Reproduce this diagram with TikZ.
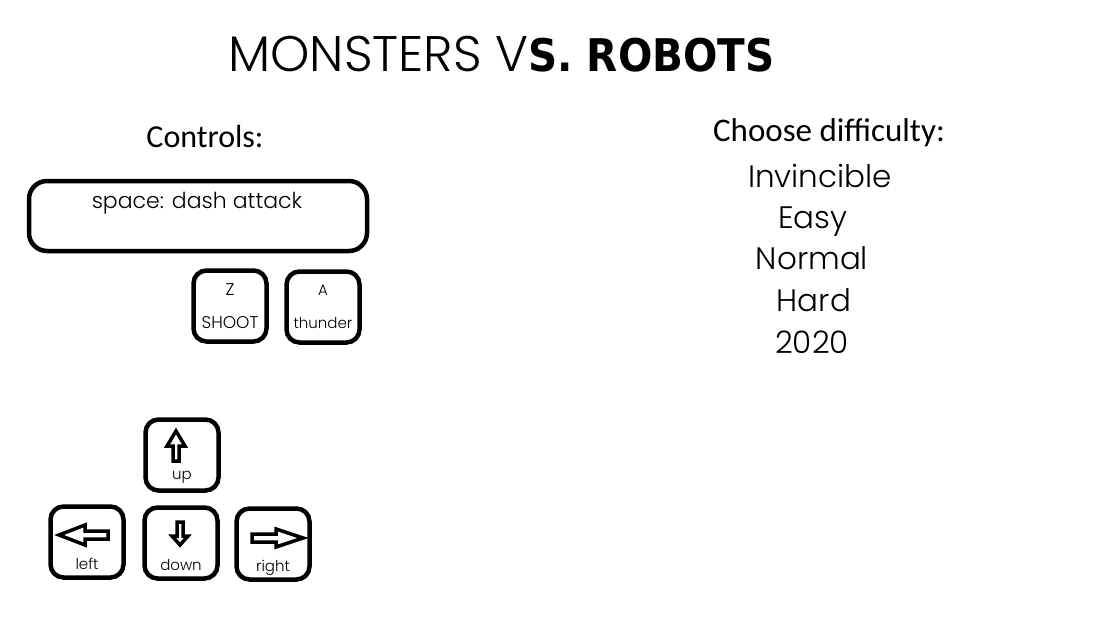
\documentclass[tikz,border=0pt]{standalone}
\usepackage{fontspec}
\setmainfont{Carlito}
\newfontfamily\robotfont{DejaVu Sans Condensed}
\newfontfamily\handfont{Poppins Light}
\usetikzlibrary{positioning}

\begin{document}
\begin{tikzpicture}[x=1pt, y=-1pt,
        key/.style={draw, line width=4.5pt, rounded corners=13pt, minimum width=73pt, minimum height=71pt, inner sep=0pt},
        keytext/.style={font=\handfont\fontsize{17}{33}\selectfont, align=center},
        keylabel/.style={anchor=base, yshift=10pt, inner sep=0pt, font=\handfont\fontsize{15}{20}\selectfont},
        arrowline/.style={line width=3.5pt, line join=miter},
        level/.style={anchor=base, font=\handfont\fontsize{31}{36}\selectfont}]
        \useasboundingbox (0,0) rectangle (1120,630);

        % title
        \node[anchor=base west, inner sep=0pt] (title) at (228,71)
            {{\handfont\fontsize{50}{54}\selectfont MONSTERS V}{\robotfont\bfseries\fontsize{45}{54}\selectfont S. ROBOTS}};

        % controls
        \node[font=\fontsize{32}{36}\selectfont] (controls) at (205,137) {Controls:};
        \node[key, minimum width=338pt, minimum height=70pt, rounded corners=18pt] (space) at (198,216) {};
        \node[font=\handfont\fontsize{22}{26}\selectfont] (spacetext) at (197,203) {space: dash attack};
        \node[key, keytext] (Z) at (230,306) {Z\\SHOOT};
        \node[key, keytext, font=\handfont\fontsize{15}{33}\selectfont] (A) at (323,307) {A\\thunder};

        % arrow keys
        \node[key, label={[keylabel, yshift=3pt]south:up}] (up) at (182,455) {};
        \node[key, label={[keylabel]south:left}] (left) at (87,542) {};
        \node[key, label={[keylabel]south:down}] (down) at (181,543) {};
        \node[key, label={[keylabel]south:right}] (right) at (273,544) {};

        \draw[arrowline] (176,431) -- (185,446) -- (179,446) -- (179,461) -- (173,461) -- (173,446) -- (167,446) -- cycle;
        \draw[arrowline] (177,522) -- (183,522) -- (183,536) -- (188,536) -- (180,545) -- (172,536) -- (177,536) -- cycle;
        \draw[arrowline] (59,535) -- (85,525) -- (85,531) -- (108,531) -- (108,539) -- (85,539) -- (85,545) -- cycle;
        \draw[arrowline] (252,534) -- (276,534) -- (276,529) -- (303,538) -- (276,547) -- (276,542) -- (252,542) -- cycle;

        % difficulty
        \node[font=\fontsize{33}{36}\selectfont] (choose) at (829,133) {Choose difficulty:};
        \node[level] (invincible) at (820,187) {Invincible};
        \node[level] (easy) at (813,228) {Easy};
        \node[level] (normal) at (812,269) {Normal};
        \node[level] (hard) at (814,311) {Hard};
        \node[level] (year) at (812,353) {2020};
    \end{tikzpicture}
\end{document}
